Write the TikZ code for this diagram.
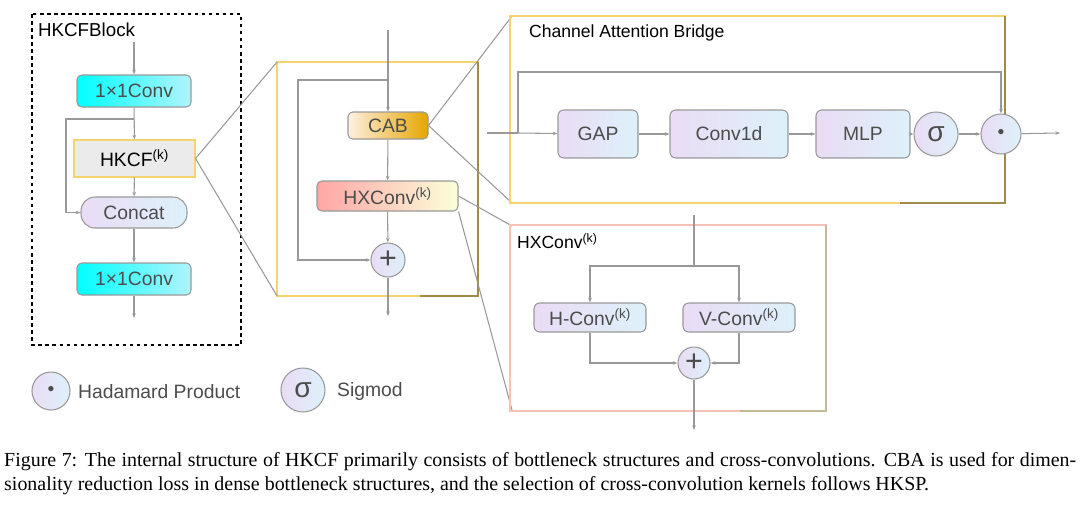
\documentclass[tikz,border=0pt]{standalone}
\usepackage{fontspec}
\setmainfont{Liberation Serif}
\newfontfamily\arialf{Liberation Sans}
\usetikzlibrary{arrows.meta}
\definecolor{ln}{HTML}{999999}
\definecolor{lav}{HTML}{EADCF5}
\definecolor{sky}{HTML}{DDF1FA}
\definecolor{gold}{HTML}{F5D36E}
\definecolor{dgold}{HTML}{A08A4A}
\definecolor{pinkb}{HTML}{F5C2B5}
\begin{document}
\begin{tikzpicture}[x=0.03cm,y=-0.03cm,
  every node/.style={font=\arialf\fontsize{16.5}{18}\selectfont,text=black!70},
  conn/.style={draw=ln,line width=0.9pt,-{Stealth[length=4pt,width=3pt]}},
  ln/.style={draw=ln,line width=0.9pt},
  pb/.style={draw=ln,line width=0.9pt,rounded corners=5pt,left color=lav,right color=sky},
  cy/.style={draw=ln,line width=0.9pt,rounded corners=4pt,left color=cyan,right color=cyan!20!sky},
  circ/.style={circle,draw=ln,line width=0.9pt,left color=lav,right color=sky,inner sep=0pt},
  ttl/.style={font=\arialf\fontsize{15}{17}\selectfont,text=black,anchor=west}]
\useasboundingbox (0,0) rectangle (1080,524);
% HKCF block
\draw[dashed,line width=0.9pt] (32,14) rectangle (241,345);
\node[ttl,font=\arialf\fontsize{16}{18}\selectfont] at (34,30) {HKCFBlock};
\coordinate (hin) at (134,42);
\node[cy,minimum width=114*0.03cm,minimum height=32*0.03cm] (c1) at (134,91) {1×1Conv};
\node[draw=gold,fill=black!8,line width=0.9pt,minimum width=121*0.03cm,minimum height=37*0.03cm,text=black] (hk) at (134.5,158.5) {HKCF\textsuperscript{(k)}};
\node[pb,rounded corners=12pt,minimum width=106*0.03cm,minimum height=31*0.03cm] (cc) at (134,212.5) {Concat};
\node[cy,minimum width=114*0.03cm,minimum height=32*0.03cm] (c2) at (134,279) {1×1Conv};
\coordinate (hout) at (134,318);
\draw[conn] (hin) -- (c1);
\draw[conn] (c1) -- (hk);
\draw[conn] (hk) -- (cc);
\draw[conn] (cc) -- (c2);
\draw[conn] (c2) -- (hout);
\draw[conn] (134,119) -- (66,119) -- (66,212.5) -- (cc.west);
% legend
\node[circ,minimum size=38*0.03cm] (lh) at (51,391) {\textbullet};
\node[anchor=west] at (74,392) {Hadamard Product};
\node[circ,minimum size=44*0.03cm,font=\arialf\fontsize{24}{24}\selectfont] (ls) at (303,390) {σ};
\node[anchor=west] at (333,391) {Sigmod};
% middle box
\draw[line width=1pt,draw=gold] (277,62) rectangle (478,296);
\draw[line width=1pt,draw=dgold] (478,62) -- (478,296) -- (420,296);
\coordinate (min) at (388,30);
\node[draw=ln,line width=0.9pt,rounded corners=4pt,left color=orange!12,right color=orange!55!yellow!90!black,minimum width=80*0.03cm,minimum height=27*0.03cm] (cab) at (388,125.5) {CAB};
\node[draw=ln,line width=0.9pt,rounded corners=4pt,left color=red!35,right color=green!10!yellow!15,minimum width=141*0.03cm,minimum height=30*0.03cm] (hx) at (387.5,196) {HXConv\textsuperscript{(k)}};
\node[circ,minimum size=34*0.03cm,font=\arialf\fontsize{26}{26}\selectfont] (mp) at (388,260) {+};
\coordinate (mout) at (388,316);
\draw[conn] (min) -- (cab);
\draw[conn] (cab) -- (hx);
\draw[conn] (hx) -- (mp);
\draw[conn] (mp) -- (mout);
\draw[conn] (388,80) -- (298,80) -- (298,260) -- (mp.west);
% zoom lines
\draw[ln] (hk.east) -- (277,62);
\draw[ln] (hk.east) -- (277,296);
\draw[ln] (cab.east) -- (512,16);
\draw[ln] (cab.east) -- (512,203);
\draw[ln] (hx.east) -- (512,226);
\draw[ln] (hx.south east) -- (512,410);
% CAB box
\draw[line width=1pt,draw=gold] (510,16) rectangle (1005,203);
\draw[line width=1pt,draw=dgold] (1005,16) -- (1005,203) -- (900,203);
\node[ttl] at (525,33) {Channel Attention Bridge};
\coordinate (cin) at (487,133);
\node[pb,minimum width=80*0.03cm,minimum height=48*0.03cm] (gap) at (598,134) {GAP};
\node[pb,minimum width=118*0.03cm,minimum height=48*0.03cm] (c1d) at (729,134) {Conv1d};
\node[pb,minimum width=94*0.03cm,minimum height=48*0.03cm] (mlp) at (863,134) {MLP};
\node[circ,minimum size=44*0.03cm,font=\arialf\fontsize{24}{24}\selectfont] (sg) at (936,134) {σ};
\node[circ,minimum size=40*0.03cm] (dt) at (1001,134) {\textbullet};
\coordinate (cout) at (1060,133);
\draw[ln] (cin) -- (518,133);
\draw[conn] (518,133) -- (gap);
\draw[conn] (gap) -- (c1d);
\draw[conn] (c1d) -- (mlp);
\draw[conn] (mlp) -- (sg);
\draw[conn] (sg) -- (dt);
\draw[conn] (dt) -- (cout);
\draw[conn] (518,133) -- (518,72) -- (1001,72) -- (dt.north);
% HXConv box
\draw[line width=1pt,draw=pinkb] (510,225) rectangle (826,411);
\draw[line width=1pt,draw=dgold!60] (826,225) -- (826,411) -- (740,411);
\node[ttl] at (513,241) {HXConv\textsuperscript{(k)}};
\coordinate (xin) at (694,215);
\node[pb,minimum width=112*0.03cm,minimum height=29*0.03cm] (hc) at (590,317.5) {H-Conv\textsuperscript{(k)}};
\node[pb,minimum width=112*0.03cm,minimum height=29*0.03cm] (vc) at (739,317.5) {V-Conv\textsuperscript{(k)}};
\node[circ,minimum size=32*0.03cm,font=\arialf\fontsize{26}{26}\selectfont] (xp) at (694,363) {+};
\coordinate (xout) at (694,430);
\draw[ln] (xin) -- (694,266);
\draw[conn] (694,266) -- (590,266) -- (hc);
\draw[conn] (694,266) -- (739,266) -- (vc);
\draw[conn] (hc) -- (590,363) -- (xp);
\draw[conn] (vc) -- (739,363) -- (xp);
\draw[conn] (xp) -- (xout);
% caption
\node[anchor=north west,text width=1072*0.03cm,align=justify,inner sep=0pt,text=black,font=\rmfamily\fontsize{17}{21}\selectfont] at (4,452) {Figure 7: The internal structure of HKCF primarily consists of bottleneck structures and cross-convolutions. CBA is used for dimensionality reduction loss in dense bottleneck structures, and the selection of cross-convolution kernels follows HKSP.};
\end{tikzpicture}
\end{document}
